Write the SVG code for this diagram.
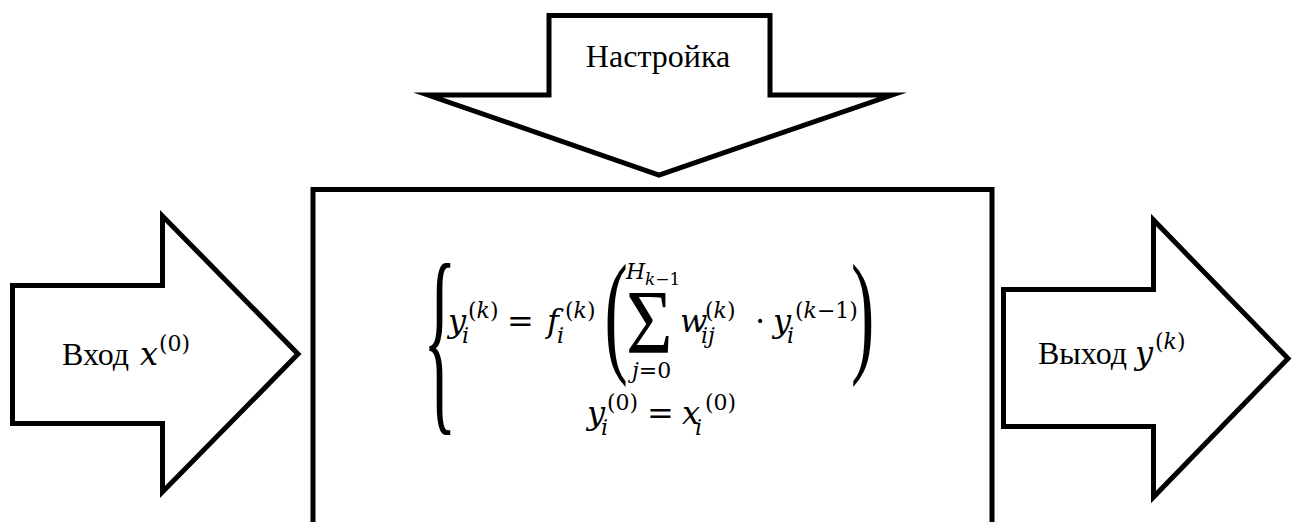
<svg xmlns="http://www.w3.org/2000/svg" width="1299" height="522" viewBox="0 0 1299 522">
<style>
.shape{fill:#fff;stroke:#000;stroke-width:5;stroke-linejoin:miter;stroke-miterlimit:20}
.lbl{font-family:"Liberation Serif","Times New Roman",serif;font-size:32px;fill:#000}
.m{font-family:"DejaVu Serif",serif;font-size:32px;fill:#000}
.s{font-size:22px}
.ss{font-size:17px}
.it{font-style:italic}
.d{font-family:"Liberation Serif","Times New Roman",serif;font-size:70px;fill:#000}
</style>
<rect width="1299" height="522" fill="#fff"/>
<g id="box">
<rect class="shape" x="313" y="189.5" width="679" height="360"/>
<g id="formula">
<text class="d" transform="translate(423,407) scale(1,2.98)">{</text>
<text class="d" transform="translate(604.6,358.3) scale(1,1.93)">(</text>
<text class="d" transform="translate(626,353) scale(1,1.14)" style="font-size:80px">Σ</text>
<text class="d" transform="translate(851,358.3) scale(1,1.93)">)</text>
<text class="m"><tspan class="it" x="448" y="332">y</tspan><tspan class="s it" x="462" y="343">i</tspan><tspan class="s" x="468" y="318">(<tspan class="it">k</tspan>)</tspan><tspan x="507" y="332">=</tspan><tspan class="it" x="547" y="332">f</tspan><tspan class="s it" x="557" y="343">i</tspan><tspan class="s" x="565" y="318">(<tspan class="it">k</tspan>)</tspan><tspan class="s it" x="626" y="279">H</tspan><tspan class="ss" x="645" y="285"><tspan class="it">k</tspan>−1</tspan><tspan class="s" x="632" y="378"><tspan class="it">j</tspan>=0</tspan><tspan class="it" x="680" y="332">w</tspan><tspan class="s it" x="701" y="343">ij</tspan><tspan class="s" x="705" y="318">(<tspan class="it">k</tspan>)</tspan><tspan x="755" y="332">·</tspan><tspan class="it" x="773" y="332">y</tspan><tspan class="s it" x="787" y="343">i</tspan><tspan class="s" x="795" y="318">(<tspan class="it">k</tspan>−1)</tspan></text>
<text class="m"><tspan class="it" x="587" y="424">y</tspan><tspan class="s it" x="601" y="435">i</tspan><tspan class="s" x="607" y="410">(0)</tspan><tspan x="647" y="424">=</tspan><tspan class="it" x="682" y="424">x</tspan><tspan class="s it" x="695" y="435">i</tspan><tspan class="s" x="705" y="410">(0)</tspan></text>
</g>
</g>
<g id="connectors">
<g id="tuning">
<polygon class="shape" points="549,15.5 770,15.5 770,95 892,95 659,175 428,95 549,95"/>
<text class="lbl" x="658" y="67" text-anchor="middle">Настройка</text>
</g>
<g id="input">
<polygon class="shape" points="12.5,285.5 162.5,285.5 162.5,216 298,354 162.5,492 162.5,423.5 12.5,423.5"/>
<text class="lbl" x="62" y="365">Вход<tspan class="m it" x="140">x</tspan><tspan class="m s" x="159" y="351">(0)</tspan></text>
</g>
<g id="output">
<polygon class="shape" points="1003.5,289.5 1153.5,289.5 1153.5,220 1288,358.5 1153.5,497 1153.5,426.5 1003.5,426.5"/>
<text class="lbl" x="1038" y="364">Выход<tspan class="m it" x="1135">y</tspan><tspan class="m s" x="1155" y="349">(<tspan class="it">k</tspan>)</tspan></text>
</g>
</g>
</svg>
